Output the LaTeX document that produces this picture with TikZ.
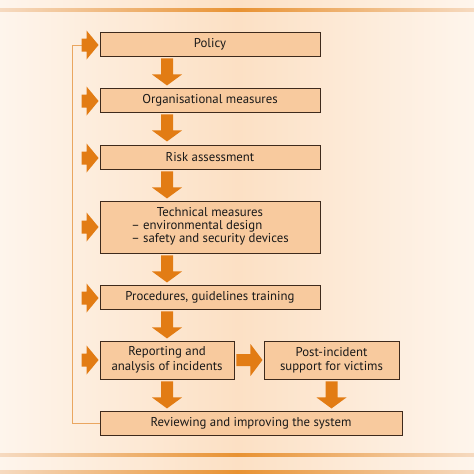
\documentclass[tikz,border=0pt]{standalone}
\usepackage{fontspec}
\setmainfont{PT Sans}
\usetikzlibrary{calc}
\definecolor{bgedge}{RGB}{254,245,236}
\definecolor{bgmid}{RGB}{252,224,196}
\definecolor{boxfill}{RGB}{248,202,158}
\definecolor{boxline}{RGB}{62,42,28}
\definecolor{arrowc}{RGB}{226,124,20}
\definecolor{linec}{RGB}{232,146,50}
\definecolor{linefade}{RGB}{246,218,192}
\definecolor{fbc}{RGB}{234,166,96}
\tikzset{
  box/.style={draw=boxline, line width=0.9pt, fill=boxfill, inner sep=0pt,
    font=\fontsize{12.8}{14.5}\selectfont, align=center, text=black!90},
  darr/.pic={\fill[arrowc] (-6,0) -- (-6,16) -- (-15,16) -- (0,27) -- (15,16) -- (6,16) -- (6,0) -- cycle;},
  larr/.pic={\fill[arrowc] (-18,-6.5) -- (-13,-6.5) -- (-13,-14.5) -- (-1,0) -- (-13,14.5) -- (-13,6.5) -- (-18,6.5) -- cycle;},
  rarr/.pic={\fill[arrowc] (2,-6) -- (16,-6) -- (16,-16) -- (28,0) -- (16,16) -- (16,6) -- (2,6) -- cycle;},
  fbline/.style={draw=fbc, line width=0.8pt},
  band/.style={left color=linefade, right color=linefade, middle color=linec, draw=none}
}
\begin{document}
\begin{tikzpicture}[x=1pt,y=-1pt]
\useasboundingbox (0,0) rectangle (474,474);
% background
\fill[left color=bgedge, right color=bgedge, middle color=bgmid] (0,0) rectangle (474,474);
\fill[band] (0,8.5) rectangle (474,11.5);
\fill[band] (0,453.5) rectangle (474,456.5);
\fill[band] (0,470.5) rectangle (474,474);
% boxes
\node[box, minimum width=220pt, minimum height=24pt] (pol) at (210,44) {Policy};
\node[box, minimum width=220pt, minimum height=24pt] (org) at (210,100) {Organisational measures};
\node[box, minimum width=220pt, minimum height=24pt] (risk) at (210,157) {Risk assessment};
\node[box, minimum width=220pt, minimum height=52pt] (tech) at (210,227)
  {\begin{tabular}{@{}l@{}}\multicolumn{1}{@{}c@{}}{Technical measures}\\[-1.5pt]
   – environmental design\\[-1.5pt] – safety and security devices\end{tabular}};
\node[box, minimum width=220pt, minimum height=24pt] (proc) at (210,297) {Procedures, guidelines training};
\node[box, minimum width=134pt, minimum height=38pt] (rep) at (167,360) {Reporting and\\analysis of incidents};
\node[box, minimum width=135pt, minimum height=38pt] (post) at (331.5,360) {Post-incident\\support for victims};
\node[box, minimum width=302pt, minimum height=24pt] (rev) at (251,423) {Reviewing and improving the system};
% feedback line
\coordinate (fbtop) at ($(pol.west)+(-18,1)$);
\draw[fbline] (rev.west) -| ($(pol.west)+(-27,1)$) -- (fbtop);
% down arrows
\pic at ($(rep.center |- pol.south)+(0,2)$) {darr};
\pic at ($(rep.center |- org.south)+(0,2)$) {darr};
\pic at ($(rep.center |- risk.south)+(0,2)$) {darr};
\pic at ($(rep.center |- tech.south)+(0,2)$) {darr};
\pic at ($(rep.center |- proc.south)+(0,2)$) {darr};
\pic at ($(rep.south)+(0,2)$) {darr};
\pic at ($(post.south)+(0,2)$) {darr};
% left arrows
\pic at ($(pol.west)+(0,1)$) {larr};
\pic at ($(org.west)+(0,1)$) {larr};
\pic at ($(risk.west)+(0,1)$) {larr};
\pic at (tech.west) {larr};
\pic at ($(proc.west)+(0,1)$) {larr};
\pic at (rep.west) {larr};
% right arrow
\pic at (rep.east) {rarr};
\end{tikzpicture}
\end{document}
